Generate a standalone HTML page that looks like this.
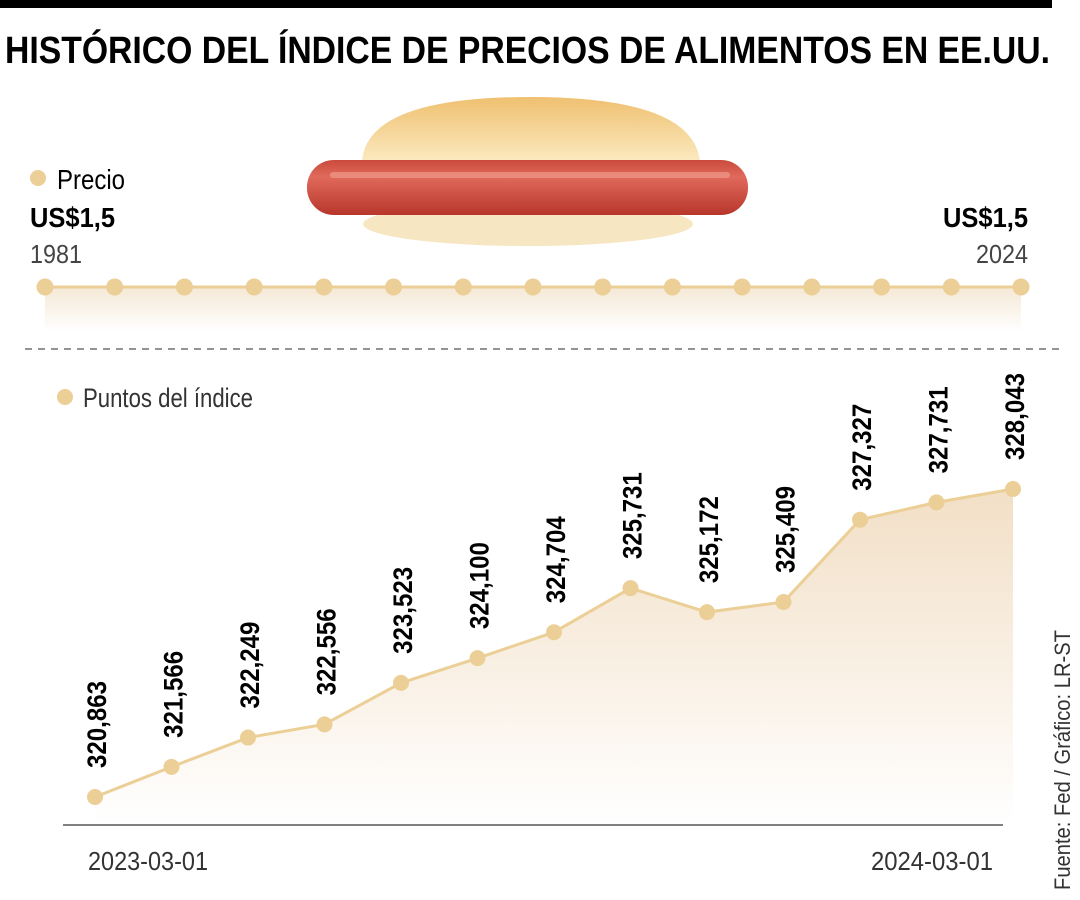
<!DOCTYPE html>
<html><head><meta charset="utf-8"><style>
html,body{margin:0;padding:0;background:#fff;}
svg{display:block;font-family:"Liberation Sans",sans-serif;}
</style></head><body>
<svg width="1080" height="900" viewBox="0 0 1080 900">
<defs>
<linearGradient id="areaG" x1="0" y1="0" x2="0" y2="1"><stop offset="0" stop-color="#f2dfc6"/><stop offset="1" stop-color="#fff"/></linearGradient>
<linearGradient id="topG" x1="0" y1="0" x2="0" y2="1"><stop offset="0" stop-color="#f5e8d6"/><stop offset="1" stop-color="#fff"/></linearGradient>
<linearGradient id="bunG" x1="0" y1="0" x2="0" y2="1"><stop offset="0" stop-color="#efc070"/><stop offset="1" stop-color="#fbeac0"/></linearGradient>
<linearGradient id="sauG" x1="0" y1="0" x2="0" y2="1"><stop offset="0" stop-color="#c94a3c"/><stop offset="0.3" stop-color="#e06a5c"/><stop offset="1" stop-color="#b8362c"/></linearGradient>
</defs>
<rect x="0" y="0" width="1052" height="8" fill="#000"/>
<text x="5" y="63" font-size="38" font-weight="bold" textLength="1045" lengthAdjust="spacingAndGlyphs" fill="#000">HISTÓRICO DEL ÍNDICE DE PRECIOS DE ALIMENTOS EN EE.UU.</text>
<g>
<ellipse cx="528" cy="224" rx="165" ry="22" fill="#f7e6c2"/>
<path d="M362 162 Q366 97 530 97 Q694 97 700 162 Z" fill="url(#bunG)"/>
<rect x="307" y="160" width="441" height="55" rx="27" fill="url(#sauG)"/>
<rect x="330" y="172" width="400" height="6" rx="3" fill="#f09a8a" opacity="0.7"/>
</g>
<circle cx="38" cy="178" r="8" fill="#ebcf96"/>
<text x="57" y="189" font-size="28" textLength="68" lengthAdjust="spacingAndGlyphs">Precio</text>
<text x="30" y="227" font-size="28" font-weight="bold" textLength="85" lengthAdjust="spacingAndGlyphs">US$1,5</text>
<text x="30" y="263" font-size="26" fill="#444" textLength="52" lengthAdjust="spacingAndGlyphs">1981</text>
<text x="1028" y="227" font-size="28" font-weight="bold" text-anchor="end" textLength="85" lengthAdjust="spacingAndGlyphs">US$1,5</text>
<text x="1028" y="263" font-size="26" fill="#444" text-anchor="end" textLength="52" lengthAdjust="spacingAndGlyphs">2024</text>
<rect x="45" y="287" width="976" height="45" fill="url(#topG)"/>
<line x1="45" y1="287" x2="1021" y2="287" stroke="#ebcf96" stroke-width="3"/>
<g id="priceDots"></g>
<line x1="25" y1="349" x2="1062" y2="349" stroke="#555" stroke-width="1.2" stroke-dasharray="7,6"/>
<circle cx="65" cy="397" r="8" fill="#ebcf96"/>
<text x="83" y="407" font-size="27" fill="#333" textLength="170" lengthAdjust="spacingAndGlyphs">Puntos del índice</text>
<g id="plot"></g>
<line x1="63" y1="825" x2="1003" y2="825" stroke="#000" stroke-width="1"/>
<text x="88" y="870" font-size="26" fill="#333" textLength="120" lengthAdjust="spacingAndGlyphs">2023-03-01</text>
<text x="993" y="870" font-size="26" fill="#333" text-anchor="end" textLength="122" lengthAdjust="spacingAndGlyphs">2024-03-01</text>
<text transform="translate(1070,890) rotate(-90)" font-size="22" fill="#333" textLength="260" lengthAdjust="spacingAndGlyphs">Fuente: Fed / Gráfico: LR-ST</text>
</svg>
<script>
const months = ["2023-03","2023-04","2023-05","2023-06","2023-07","2023-08","2023-09","2023-10","2023-11","2023-12","2024-01","2024-02","2024-03"];
const indexValues = [320.863,321.566,322.249,322.556,323.523,324.100,324.704,325.731,325.172,325.409,327.327,327.731,328.043];
const valueLabels = ["320,863","321,566","322,249","322,556","323,523","324,100","324,704","325,731","325,172","325,409","327,327","327,731","328,043"];
const pricePoints = [1.5,1.5,1.5,1.5,1.5,1.5,1.5,1.5,1.5,1.5,1.5,1.5,1.5,1.5,1.5];
const NS="http://www.w3.org/2000/svg";
const xS=i=>95+i*(1013-95)/(months.length-1);
const yS=v=>797-(v-320.863)*(308/(328.043-320.863));
const pxS=i=>45+i*(1021-45)/(pricePoints.length-1);
const pd=document.getElementById('priceDots');
pricePoints.forEach((p,i)=>{const c=document.createElementNS(NS,'circle');
c.setAttribute('cx',pxS(i));c.setAttribute('cy',287);c.setAttribute('r',8.5);c.setAttribute('fill','#ebcf96');


pd.appendChild(c);});
const g=document.getElementById('plot');
let pts=indexValues.map((v,i)=>xS(i)+','+yS(v));
const area=document.createElementNS(NS,'polygon');
area.setAttribute('points',pts.join(' ')+' '+xS(indexValues.length-1)+',825 '+xS(0)+',825');
area.setAttribute('fill','url(#areaG)');


g.appendChild(area);
const line=document.createElementNS(NS,'polyline');
line.setAttribute('points',pts.join(' '));line.setAttribute('fill','none');line.setAttribute('stroke','#ebcf96');line.setAttribute('stroke-width','3');


g.appendChild(line);
indexValues.forEach((v,i)=>{const c=document.createElementNS(NS,'circle');
c.setAttribute('cx',xS(i));c.setAttribute('cy',yS(v));c.setAttribute('r',8);c.setAttribute('fill','#ebcf96');


g.appendChild(c);
const t=document.createElementNS(NS,'text');
t.setAttribute('transform','translate('+(xS(i)+11)+','+(yS(v)-29)+') rotate(-90)');
t.setAttribute('font-size','27');t.setAttribute('font-weight','bold');
t.setAttribute('textLength','87');t.setAttribute('lengthAdjust','spacingAndGlyphs');
t.textContent=valueLabels[i];


g.appendChild(t);});
</script>
</body></html>
